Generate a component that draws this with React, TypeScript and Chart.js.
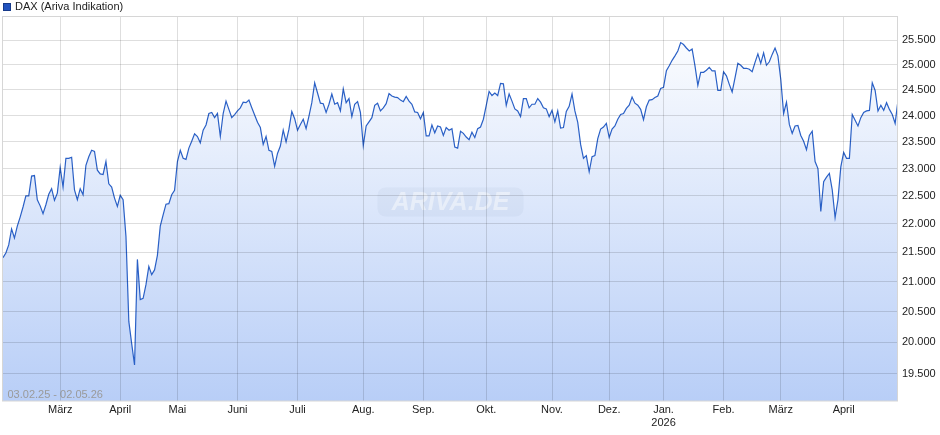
import { useEffect, useRef } from 'react';
import { Chart, registerables } from 'chart.js';

Chart.register(...registerables);

const seriesLabel = 'DAX (Ariva Indikation)';
const rangeLabel = '03.02.25 - 02.05.26';
const watermarkText = 'ARIVA.DE';

// daily closing values (trading-day sequence)
const daxValues: number[] = [
  21410, 21490, 21630, 21910, 21750, 21960, 22120, 22300, 22500, 22500,
  22860, 22870, 22430, 22320, 22180, 22340, 22530, 22630, 22420, 22550,
  23020, 22660, 23190, 23190, 23210, 22610, 22430, 22630, 22520, 23060,
  23220, 23340, 23320, 22970, 22900, 22890, 23130, 22720, 22660, 22460,
  22310, 22510, 22430, 21780, 20340, 19980, 19640, 21380, 20700, 20720,
  20950, 21260, 21120, 21200, 21450,
  21960, 22160, 22350, 22360, 22520, 22600, 23130, 23340, 23190, 23170,
  23380, 23510, 23650, 23600, 23480, 23720, 23820, 24040, 24060, 23960,
  24040, 23600, 24040, 24280, 24120, 23960, 24020, 24090, 24150, 24260,
  24250, 24300, 24150, 24010, 23870, 23770, 23450, 23600, 23340, 23320,
  23040, 23280, 23420, 23720, 23500, 23740, 24080, 23940, 23720, 23830,
  23930, 23750, 23990, 24250, 24640, 24440, 24240, 24230, 24060, 24220,
  24420, 24220, 24250, 24090, 24520, 24250, 24330, 23980, 24220, 24270,
  24060, 23430, 23800, 23880, 23960, 24200, 24240, 24090, 24150, 24230,
  24430, 24380, 24360, 24350, 24300, 24270, 24370, 24280, 24220, 24070,
  24060, 23940, 24060, 23610, 23610, 23820, 23670, 23800, 23780, 23620,
  23770, 23720, 23750,
  23400, 23380, 23700, 23660, 23590, 23540, 23680, 23580, 23750, 23780,
  23930, 24200, 24470, 24390, 24440, 24390, 24630, 24620, 24200, 24420,
  24280, 24130, 24090, 23980, 24330, 24330, 24150, 24220, 24220, 24330,
  24260, 24150, 24130, 23980, 24100, 23880, 24090, 23760, 23770, 24080,
  24180, 24420, 24090, 23870, 23450, 23190, 23240, 22940, 23220, 23240,
  23560, 23740, 23780, 23850, 23580,
  23740, 23800, 23930, 24020, 24040, 24140, 24200, 24360, 24240, 24200,
  24120, 23920, 24170, 24300, 24310, 24350, 24380, 24530, 24550, 24880,
  24980, 25090, 25180, 25280, 25450, 25410, 25340, 25280, 25320, 24980,
  24590, 24850, 24850, 24890, 24950, 24880, 24880, 24490, 24490, 24860,
  24780, 24610, 24460, 24740, 25030, 24990, 24930, 24930, 24910, 24860,
  25050, 25220, 25030, 25240, 24990, 25060, 25210, 25340, 25180, 24710,
  24040, 24260, 23830, 23660, 23800, 23810, 23620, 23510, 23350, 23620,
  23700, 23130, 23000, 22220, 22760, 22840, 22910, 22610, 22110, 22430,
  23030, 23300, 23190, 23190, 24020, 23910, 23800, 23960, 24060, 24090,
  24100, 24640, 24490, 24090, 24200, 24100, 24250, 24120, 24020, 23850,
  24300,
];

// index of first trading day of each month
const monthTickIndex: number[] = [20, 41, 61, 82, 103, 126, 147, 169, 192, 212, 231, 252, 272, 294];
const monthLabels: (string | string[])[] = [
  'März', 'April', 'Mai', 'Juni', 'Juli', 'Aug.', 'Sep.', 'Okt.', 'Nov.', 'Dez.',
  ['Jan.', '2026'], 'Feb.', 'März', 'April',
];

const yTickValues: number[] = [19500, 20000, 20500, 21000, 21500, 22000, 22500, 23000, 23500, 24000, 24500, 25000, 25500, 26000];
const yMin = 19080;
const yMax = 26000;

const FONT = '"Liberation Sans", Arial, Helvetica, sans-serif';

function formatDe(v: number): string {
  return String(Math.round(v)).replace(/\B(?=(\d{3})+(?!\d))/g, '.');
}

const decorPlugin = {
  id: 'decor',
  afterDatasetsDraw(chart: any) {
    const { ctx, chartArea } = chart;
    ctx.save();
    // watermark
    const cx = (chartArea.left + chartArea.right) / 2;
    const cy = 202;
    const w = 146;
    const h = 29;
    ctx.beginPath();
    if (ctx.roundRect) ctx.roundRect(cx - w / 2, cy - h / 2, w, h, 8);
    else ctx.rect(cx - w / 2, cy - h / 2, w, h);
    ctx.fillStyle = 'rgba(150,165,195,0.10)';
    ctx.fill();
    ctx.font = `italic bold 25px ${FONT}`;
    ctx.textAlign = 'center';
    ctx.textBaseline = 'middle';
    ctx.fillStyle = 'rgba(255,255,255,0.45)';
    ctx.fillText(watermarkText, cx, cy + 1);
    // date range
    ctx.font = `11px ${FONT}`;
    ctx.textAlign = 'left';
    ctx.fillStyle = '#9a9a9a';
    ctx.fillText(rangeLabel, chartArea.left + 4.5, chartArea.bottom - 6);
    ctx.restore();
  },
  afterDraw(chart: any) {
    const { ctx, chartArea } = chart;
    ctx.save();
    ctx.strokeStyle = '#d6d6d6';
    ctx.lineWidth = 1;
    ctx.strokeRect(
      Math.round(chartArea.left) - 0.5,
      Math.round(chartArea.top) + 0.5,
      Math.round(chartArea.right - chartArea.left) + 0,
      Math.round(chartArea.bottom - chartArea.top) - 0.5
    );
    // legend
    ctx.fillStyle = '#2152be';
    ctx.fillRect(3.5, 3.5, 7, 7);
    ctx.strokeStyle = '#163a8a';
    ctx.strokeRect(3.5, 3.5, 7, 7);
    ctx.font = `11px ${FONT}`;
    ctx.fillStyle = '#222';
    ctx.textAlign = 'left';
    ctx.textBaseline = 'middle';
    ctx.fillText(seriesLabel, 15, 7);
    ctx.restore();
  },
};

export default function App() {
  const canvasRef = useRef<HTMLCanvasElement | null>(null);

  useEffect(() => {
    const canvas = canvasRef.current;
    if (!canvas) return;
    const tickFont = { family: FONT, size: 11, lineHeight: 1.2 };
    const chart = new Chart(canvas, {
      type: 'line',
      data: {
        datasets: [
          {
            label: seriesLabel,
            data: daxValues.map((v, i) => ({ x: i, y: v })),
            borderColor: '#2a60c6',
            borderWidth: 1.2,
            pointRadius: 0,
            tension: 0,
            fill: 'start',
            backgroundColor: (context: any) => {
              const { chart: c } = context;
              const area = c.chartArea;
              if (!area) return 'rgba(200,215,245,0.6)';
              const g = c.ctx.createLinearGradient(0, area.top, 0, area.bottom);
              g.addColorStop(0, '#ffffff');
              g.addColorStop(1, '#b8cef7');
              return g;
            },
          },
        ],
      },
      options: {
        animation: false,
        responsive: false,
        events: [],
        layout: { padding: { left: 3, top: 16, right: 0, bottom: 0 } },
        plugins: { legend: { display: false }, tooltip: { enabled: false } },
        scales: {
          x: {
            type: 'linear',
            min: 0,
            max: daxValues.length - 1,
            afterBuildTicks: (s: any) => {
              s.ticks = monthTickIndex.map((v) => ({ value: v }));
            },
            afterFit: (s: any) => {
              s.height = 34;
            },
            ticks: {
              autoSkip: false,
              maxRotation: 0,
              minRotation: 0,
              padding: 2,
              color: '#222',
              font: tickFont,
              callback: (_v: any, i: number) => monthLabels[i],
            },
            grid: { color: 'rgba(0,0,0,0.13)', drawTicks: false, z: 1 },
            border: { display: false },
          },
          y: {
            type: 'logarithmic',
            position: 'right',
            min: yMin,
            max: yMax,
            afterBuildTicks: (s: any) => {
              s.ticks = yTickValues.map((v) => ({ value: v }));
            },
            afterFit: (s: any) => {
              s.width = 42;
            },
            ticks: {
              padding: 4,
              color: '#222',
              font: tickFont,
              callback: (v: any) => (Number(v) >= yMax ? '' : formatDe(Number(v))),
            },
            grid: { color: 'rgba(0,0,0,0.13)', drawTicks: false, z: 1 },
            border: { display: false },
          },
        },
      },
      plugins: [decorPlugin],
    } as any);
    return () => chart.destroy();
  }, []);

  return (
    <div style={{ position: 'fixed', left: 0, top: 0, width: 940, height: 435, background: '#fff' }}>
      <canvas ref={canvasRef} width={940} height={435} style={{ width: 940, height: 435, display: 'block' }} />
    </div>
  );
}
